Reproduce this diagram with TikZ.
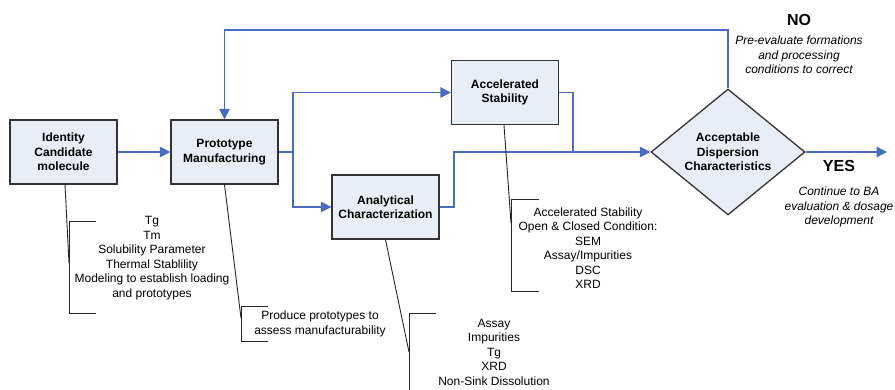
\documentclass[tikz,border=0pt]{standalone}
\usepackage{fontspec}
\setmainfont{Liberation Sans}
\usetikzlibrary{shapes.geometric,arrows.meta}
\definecolor{flowblue}{HTML}{4A6BC2}
\definecolor{boxfill}{HTML}{E9EDF5}
\definecolor{boxline}{HTML}{333333}
\tikzset{
  procbox/.style={draw=boxline,line width=1.3pt,fill=boxfill,minimum width=107pt,minimum height=64pt,
    inner sep=0pt,align=center,font=\fontsize{12}{14.5}\selectfont\bfseries},
  decbox/.style={draw=boxline,line width=1.3pt,fill=boxfill,shape=diamond,minimum width=154pt,
    minimum height=126pt,aspect=1.22,inner sep=0pt,align=center,font=\fontsize{12}{14.5}\selectfont\bfseries},
  flow/.style={draw=flowblue,line width=1.4pt},
  flowarr/.style={flow,-{Triangle[length=10.5pt,width=10.5pt]}},
  note/.style={inner sep=0pt,align=center,font=\fontsize{12}{14.5}\selectfont},
  inote/.style={inner sep=0pt,align=center,font=\fontsize{12}{14.5}\selectfont\itshape},
  bigword/.style={inner sep=0pt,font=\fontsize{16}{18}\selectfont\bfseries},
  brk/.style={draw=black!85,line width=0.9pt},
}
\begin{document}
\begin{tikzpicture}[x=1pt,y=-1pt]
\useasboundingbox (0,0) rectangle (895,390);
% boxes
\node[procbox] (b1) at (63.5,152) {Identity\\Candidate\\molecule};
\node[procbox] (b2) at (224.5,152) {Prototype\\Manufacturing};
\node[procbox] (b3) at (385.5,207) {Analytical\\Characterization};
\node[procbox] (b4) at (505,92.5) {Accelerated\\Stability};
\node[decbox] (d) at (728,152) {Acceptable\\Dispersion\\Characteristics};
% flow connectors
\coordinate (split) at (293,152);
\coordinate (join) at (573,152);
\coordinate (outend) at (887,152);
\coordinate (loopR) at (728,30);
\coordinate (loopL) at (224.5,30);
\draw[flowarr] (b1.east) -- (b2.west);
\draw[flow] (b2.east) -- (split);
\draw[flowarr] (split) |- (b4.west);
\draw[flowarr] (split) |- (b3.west);
\draw[flowarr] (b3.east) -- (454,207) -- (454,152) -- (d.west);
\draw[flow] (b4.east) -| (join);
\draw[flowarr] (d.east) -- (outend);
\draw[flowarr] (d.north) -- (loopR) -- (loopL) -- (b2.north);
% annotation brackets
\coordinate (k1) at (69,263);
\coordinate (k2) at (241,318);
\coordinate (k3) at (409,352);
\coordinate (k4) at (511,223);
\draw[brk] (b1.south -| 65,0) -- (k1);
\draw[brk] (96,221) -- (69,221) -- (69,313) -- (96,313);
\draw[brk] (b2.south) -- (k2);
\draw[brk] (268,306) -- (241,306) -- (241,341) -- (268,341);
\draw[brk] (b3.south) -- (k3);
\draw[brk] (436,313) -- (409,313) -- (409,392);
\draw[brk] (b4.south -| 504,0) -- (k4);
\draw[brk] (539,199) -- (511,199) -- (511,291) -- (539,291);
% annotation texts
\node[note] (t1) at (152,258) {Tg\\Tm\\Solubility Parameter\\Thermal Stablility\\Modeling to establish loading\\and prototypes};
\node[note] (t2) at (320,324) {Produce prototypes to\\assess manufacturability};
\node[note] (t3) at (494,352) {Assay\\Impurities\\Tg\\XRD\\Non-Sink Dissolution};
\node[note] (t4) at (588,248) {Accelerated Stability\\Open \& Closed Condition:\\SEM\\Assay/Impurities\\DSC\\XRD};
% decision labels
\node[bigword] (no) at (799,20) {NO};
\node[inote] (not) at (799,55) {Pre-evaluate formations\\and processing\\conditions to correct};
\node[bigword] (yes) at (839,166) {YES};
\node[inote] (yest) at (839,207) {Continue to BA\\evaluation \& dosage\\development};
\end{tikzpicture}
\end{document}
